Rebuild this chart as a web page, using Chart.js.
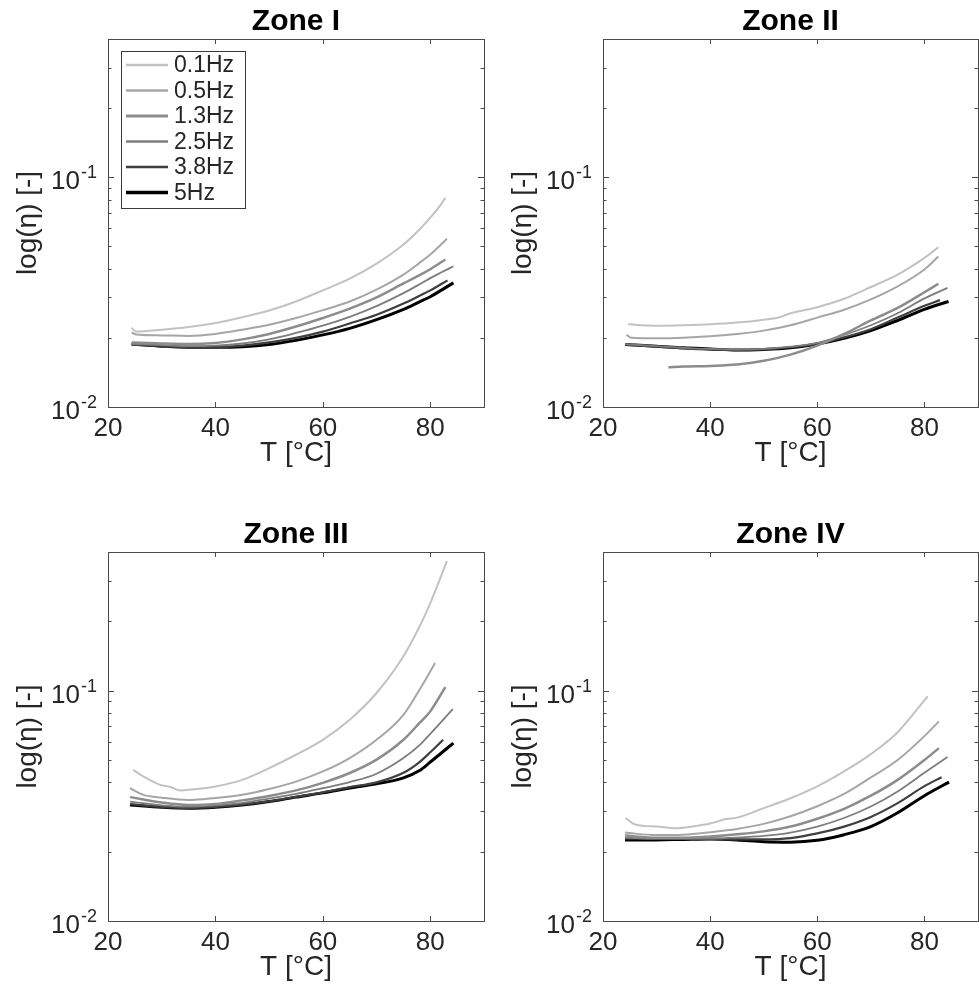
<!DOCTYPE html>
<html lang="en">
<head>
<meta charset="UTF-8">
<title>Loss factor vs temperature, zones I-IV</title>
<script src="https://cdn.jsdelivr.net/npm/chart.js"></script>
<style>
  body { margin: 0; background: #fff; }
  canvas { position: absolute; }
</style>
</head>
<body>
<canvas id="zone1" width="490" height="490" style="left:0;top:0"></canvas>
<canvas id="zone2" width="489" height="490" style="left:490px;top:0"></canvas>
<canvas id="zone3" width="490" height="497" style="left:0;top:490px"></canvas>
<canvas id="zone4" width="489" height="497" style="left:490px;top:490px"></canvas>
<script>
// frequencies (legend) and axis ticks
const freqLabels = ['0.1Hz', '0.5Hz', '1.3Hz', '2.5Hz', '3.8Hz', '5Hz'];
const tempTicks = [20, 40, 60, 80];
const etaTicks = [0.01, 0.1];

// [T in °C, eta]
const zone1 = [
  [[24.4,0.0221],[25.3,0.0213],[30,0.0217],[35,0.0223],[40,0.0232],[45,0.0246],[50,0.0263],[55,0.0288],[60,0.0322],[65,0.0362],[70,0.0421],[75,0.0510],[78,0.0593],[80,0.0667],[82,0.0762],[82.8,0.0815]],
  [[24.4,0.0211],[25.3,0.0207],[30,0.0205],[35,0.0204],[40,0.0208],[45,0.0217],[50,0.0228],[55,0.0244],[60,0.0264],[65,0.0288],[70,0.0324],[75,0.0377],[78,0.0424],[80,0.0461],[82,0.0510],[83.1,0.0540]],
  [[24.4,0.0191],[30,0.0189],[35,0.0188],[40,0.0190],[45,0.0197],[50,0.0208],[55,0.0224],[60,0.0244],[65,0.0268],[70,0.0300],[75,0.0345],[78,0.0375],[80,0.0398],[82.8,0.0439]],
  [[24.4,0.0188],[30,0.0186],[35,0.0184],[40,0.0185],[45,0.0189],[50,0.0197],[55,0.0210],[60,0.0226],[65,0.0247],[70,0.0275],[75,0.0313],[78,0.0342],[80,0.0364],[82,0.0385],[84.3,0.0410]],
  [[24.4,0.0187],[30,0.0184],[35,0.0182],[40,0.0182],[45,0.0185],[50,0.0191],[55,0.0200],[60,0.0213],[65,0.0231],[70,0.0252],[75,0.0282],[78,0.0305],[80,0.0322],[83.2,0.0356]],
  [[24.4,0.0188],[30,0.0184],[35,0.0182],[40,0.0182],[45,0.0183],[50,0.0187],[55,0.0195],[60,0.0206],[65,0.0220],[70,0.0240],[75,0.0266],[78,0.0287],[80,0.0302],[82,0.0322],[84.3,0.0347]]
];
const zone2 = [
  [[24.7,0.0230],[27,0.0227],[30,0.0226],[35,0.0227],[40,0.0229],[45,0.0233],[50,0.0240],[53,0.0246],[55,0.0256],[60,0.0272],[65,0.0296],[70,0.0333],[75,0.0377],[80,0.0446],[82.6,0.0496]],
  [[24.4,0.0206],[25.3,0.0200],[30,0.0199],[35,0.0200],[40,0.0203],[45,0.0208],[50,0.0215],[55,0.0227],[60,0.0245],[65,0.0265],[70,0.0294],[75,0.0335],[80,0.0397],[82.6,0.0452]],
  [[32.2,0.0149],[35,0.0150],[40,0.0151],[45,0.0153],[50,0.0159],[55,0.0169],[60,0.0185],[65,0.0208],[70,0.0238],[75,0.0270],[80,0.0316],[82.6,0.0344]],
  [[24.1,0.0188],[30,0.0184],[35,0.0181],[40,0.0179],[45,0.0178],[50,0.0179],[55,0.0183],[60,0.0190],[65,0.0206],[70,0.0227],[75,0.0256],[80,0.0297],[84.3,0.0330]],
  [[24.1,0.0187],[30,0.0183],[35,0.0180],[40,0.0178],[45,0.0177],[50,0.0178],[55,0.0182],[60,0.0188],[65,0.0201],[70,0.0218],[75,0.0245],[80,0.0276],[82.9,0.0292]],
  [[24.1,0.0187],[30,0.0184],[35,0.0181],[40,0.0179],[45,0.0177],[50,0.0178],[55,0.0181],[60,0.0188],[65,0.0199],[70,0.0215],[75,0.0238],[80,0.0266],[84.5,0.0288]]
];
const zone3 = [
  [[24.7,0.0453],[26.6,0.0424],[29.7,0.0390],[31.5,0.0383],[33.4,0.0369],[35,0.0371],[40,0.0384],[45,0.0410],[50,0.0461],[55,0.0527],[60,0.0612],[65,0.0748],[70,0.0977],[75,0.141],[78,0.190],[80,0.240],[83.1,0.365]],
  [[24.1,0.0377],[26.6,0.0353],[30,0.0343],[35,0.0335],[40,0.0342],[45,0.0353],[50,0.0374],[55,0.0403],[60,0.0446],[65,0.0510],[70,0.0612],[75,0.0786],[78,0.101],[80.9,0.132]],
  [[24.1,0.0345],[30,0.0327],[35,0.0319],[40,0.0322],[45,0.0334],[50,0.0349],[55,0.0369],[60,0.0398],[65,0.0439],[70,0.0502],[75,0.0612],[78,0.0724],[80,0.0813],[82.8,0.1037]],
  [[24.1,0.0330],[30,0.0318],[35,0.0314],[40,0.0318],[45,0.0326],[50,0.0340],[55,0.0356],[60,0.0377],[65,0.0401],[70,0.0436],[75,0.0510],[78,0.0580],[80,0.0650],[82,0.0730],[84.2,0.0832]],
  [[24.1,0.0322],[30,0.0313],[35,0.0310],[40,0.0313],[45,0.0320],[50,0.0331],[55,0.0346],[60,0.0362],[65,0.0381],[70,0.0400],[75,0.0440],[78,0.0490],[80,0.0540],[82.4,0.0612]],
  [[24.1,0.0319],[30,0.0312],[35,0.0309],[40,0.0312],[45,0.0319],[50,0.0330],[55,0.0345],[60,0.0360],[65,0.0378],[70,0.0394],[75,0.0418],[78,0.0450],[80,0.0490],[82,0.0535],[84.3,0.0592]]
];
const zone4 = [
  [[24.2,0.0280],[26.1,0.0262],[30,0.0257],[33.4,0.0253],[37,0.0258],[40,0.0265],[43,0.0277],[45,0.0281],[50,0.0309],[55,0.0341],[60,0.0384],[65,0.0446],[70,0.0530],[75,0.0660],[80.6,0.0945]],
  [[24.1,0.0242],[30,0.0236],[35,0.0237],[40,0.0243],[45,0.0251],[50,0.0264],[55,0.0285],[60,0.0315],[65,0.0356],[70,0.0420],[75,0.0500],[80,0.0635],[82.7,0.0736]],
  [[24.1,0.0235],[30,0.0230],[35,0.0230],[40,0.0233],[45,0.0238],[50,0.0245],[55,0.0257],[60,0.0278],[65,0.0307],[70,0.0350],[75,0.0410],[80,0.0500],[82.7,0.0563]],
  [[24.1,0.0230],[30,0.0228],[35,0.0228],[40,0.0228],[45,0.0230],[50,0.0234],[55,0.0242],[60,0.0257],[65,0.0280],[70,0.0314],[75,0.0365],[80,0.0440],[84.3,0.0515]],
  [[24.1,0.0228],[30,0.0227],[35,0.0227],[40,0.0227],[45,0.0226],[50,0.0226],[55,0.0229],[60,0.0240],[65,0.0257],[70,0.0283],[75,0.0325],[80,0.0385],[83.2,0.0421]],
  [[24.1,0.0225],[30,0.0225],[35,0.0226],[40,0.0227],[45,0.0225],[50,0.0221],[55,0.0220],[60,0.0224],[65,0.0237],[70,0.0257],[75,0.0295],[80,0.0350],[84.6,0.0401]]
];

const FONT = '"Liberation Sans", Arial, Helvetica, sans-serif';
const INK = '#262626';
const lineColors = ['#c2c2c2', '#a6a6a6', '#8c8c8c', '#7d7d7d', '#3f3f3f', '#000000'];
const lineWidths = [2, 2, 2.5, 1.8, 2.2, 3];

// box, inward ticks and 10^n labels like a matlab axes
const matlabAxes = {
  id: 'matlabAxes',
  afterDatasetsDraw(chart) {
    const { ctx, chartArea: a, scales: { x, y } } = chart;
    ctx.save();
    ctx.strokeStyle = '#4a4a4a';
    ctx.lineWidth = 1;
    ctx.strokeRect(a.left + 0.5, a.top + 0.5, a.right - a.left, a.bottom - a.top);

    ctx.beginPath();
    tempTicks.forEach(v => {
      const px = Math.round(x.getPixelForValue(v)) + 0.5;
      ctx.moveTo(px, a.bottom); ctx.lineTo(px, a.bottom - 5);
      ctx.moveTo(px, a.top); ctx.lineTo(px, a.top + 5);
    });
    const minor = [0.02, 0.03, 0.04, 0.05, 0.06, 0.07, 0.08, 0.09, 0.2, 0.3];
    minor.concat(etaTicks).forEach(v => {
      const len = etaTicks.includes(v) ? 6 : 3.5;
      const py = Math.round(y.getPixelForValue(v)) + 0.5;
      ctx.moveTo(a.left, py); ctx.lineTo(a.left + len, py);
      ctx.moveTo(a.right, py); ctx.lineTo(a.right - len, py);
    });
    ctx.stroke();

    ctx.fillStyle = INK;
    ctx.textAlign = 'right';
    ctx.textBaseline = 'alphabetic';
    etaTicks.forEach(v => {
      const py = y.getPixelForValue(v);
      const sup = String(Math.round(Math.log10(v)));
      const xr = a.left - 11;
      ctx.font = `18px ${FONT}`;
      ctx.fillText(sup, xr, py + 1);
      const w = ctx.measureText(sup).width;
      ctx.font = `26px ${FONT}`;
      ctx.fillText('10', xr - w - 1, py + 12);
    });
    ctx.restore();
  }
};

const matlabLegend = {
  id: 'matlabLegend',
  afterDraw(chart, args, opts) {
    if (!opts.display) return;
    const { ctx, chartArea: a } = chart;
    const bx = a.left + 13, by = a.top + 12, bw = 124, bh = 157;
    ctx.save();
    ctx.fillStyle = '#fff';
    ctx.fillRect(bx, by, bw, bh);
    ctx.strokeStyle = '#3a3a3a';
    ctx.lineWidth = 1;
    ctx.strokeRect(bx + 0.5, by + 0.5, bw, bh);
    ctx.font = `23px ${FONT}`;
    ctx.textBaseline = 'middle';
    chart.data.datasets.forEach((ds, i) => {
      const cy = by + 14 + i * 25.5;
      ctx.strokeStyle = ds.borderColor;
      ctx.lineWidth = ds.borderWidth + 0.5;
      ctx.beginPath();
      ctx.moveTo(bx + 5, cy);
      ctx.lineTo(bx + 47, cy);
      ctx.stroke();
      ctx.fillStyle = INK;
      ctx.fillText(ds.label, bx + 53, cy + 1);
    });
    ctx.restore();
  }
};

function makePanel(id, title, series, area) {
  const canvas = document.getElementById(id);
  const W = canvas.width, H = canvas.height;
  const titleLH = 30 * 1.2;
  const axisLH = 28 * 1.2;
  return new Chart(canvas, {
    type: 'line',
    data: {
      datasets: series.map((pts, i) => ({
        label: freqLabels[i],
        data: pts.map(([t, v]) => ({ x: t, y: v })),
        borderColor: lineColors[i],
        borderWidth: lineWidths[i],
        pointRadius: 0,
        fill: false,
        cubicInterpolationMode: 'monotone'
      }))
    },
    options: {
      responsive: false,
      animation: false,
      events: [],
      layout: { padding: { left: 0, top: 0, bottom: 0, right: W - area.right } },
      plugins: {
        legend: { display: false },
        tooltip: { enabled: false },
        title: {
          display: true, text: title, fullSize: false, color: '#000',
          font: { family: FONT, size: 30, weight: 'bold' },
          padding: { top: area.top - titleLH + 0.5, bottom: -0.5 }
        },
        matlabLegend: { display: id === 'zone1' }
      },
      scales: {
        x: {
          type: 'linear', min: 20, max: 90,
          afterBuildTicks: s => { s.ticks = tempTicks.map(value => ({ value })); },
          afterFit: s => { s.height = H - area.bottom; },
          grid: { display: false, drawTicks: false },
          border: { display: false },
          ticks: { color: INK, font: { family: FONT, size: 26 }, padding: 6, maxRotation: 0 },
          title: {
            display: true, text: 'T [°C]', color: INK,
            font: { family: FONT, size: 28 },
            padding: { top: 0, bottom: (H - area.bottom) - 46.6 - axisLH / 2 }
          }
        },
        y: {
          type: 'logarithmic', min: 0.01, max: 0.4,
          afterFit: s => { s.width = area.left; },
          grid: { display: false, drawTicks: false },
          border: { display: false },
          ticks: { display: false },
          title: {
            display: true, text: 'log(η) [-]', color: INK,
            font: { family: FONT, size: 28 },
            padding: { top: area.left - 79.4 - axisLH / 2, bottom: 0 }
          }
        }
      }
    },
    plugins: [matlabAxes, matlabLegend]
  });
}

makePanel('zone1', 'Zone I', zone1, { left: 108, top: 39, right: 484, bottom: 407 });
makePanel('zone2', 'Zone II', zone2, { left: 113, top: 39, right: 488, bottom: 407 });
makePanel('zone3', 'Zone III', zone3, { left: 108, top: 62, right: 484, bottom: 431 });
makePanel('zone4', 'Zone IV', zone4, { left: 113, top: 62, right: 488, bottom: 431 });
</script>
</body>
</html>
